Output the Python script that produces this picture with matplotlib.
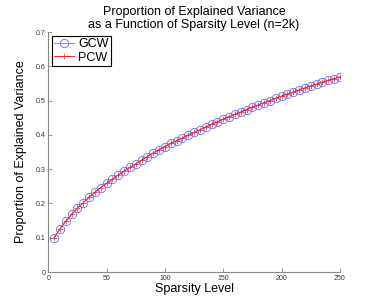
import numpy as np
import matplotlib.pyplot as plt

plt.rcParams['font.family'] = ['Liberation Sans', 'DejaVu Sans']

sparsity = list(range(5, 255, 5))
gcw = [0.100, 0.126, 0.148, 0.168, 0.186, 0.202, 0.218, 0.233, 0.246, 0.259,
       0.271, 0.283, 0.294, 0.305, 0.316, 0.326, 0.337, 0.347, 0.357, 0.366,
       0.375, 0.383, 0.391, 0.399, 0.407, 0.415, 0.423, 0.431, 0.438, 0.446,
       0.453, 0.460, 0.467, 0.474, 0.481, 0.487, 0.494, 0.500, 0.507, 0.513,
       0.519, 0.525, 0.531, 0.537, 0.543, 0.548, 0.554, 0.559, 0.564, 0.569]
pcw = list(gcw)

fig = plt.figure(figsize=(3.74, 3.05), dpi=100)
ax = fig.add_axes([0.129, 0.108, 0.780, 0.787])

ax.plot(sparsity, gcw, color='#3030ff', lw=0.4, marker='o', ms=6,
        mfc='none', mec='#6a6aff', mew=0.6, label='GCW')
ax.plot(sparsity, pcw, color='#ff2020', lw=0.7, marker='+', ms=5,
        mew=0.5, label='PCW')

ax.set_xlim(0, 250)
ax.set_ylim(0, 0.7)
ax.set_xticks([0, 50, 100, 150, 200, 250])
ax.set_yticks([0, 0.1, 0.2, 0.3, 0.4, 0.5, 0.6, 0.7])
ax.set_yticklabels(['0', '0.1', '0.2', '0.3', '0.4', '0.5', '0.6', '0.7'])
ax.tick_params(direction='in', labelsize=5, length=3, color='#888888',
               labelcolor='#333333', width=0.6, pad=2)
for s in ['top', 'right']:
    ax.spines[s].set_visible(False)
for s in ['left', 'bottom']:
    ax.spines[s].set_color('#888888')
    ax.spines[s].set_linewidth(0.8)

ax.set_xlabel('Sparsity Level', fontsize=9, labelpad=1)
ax.set_ylabel('Proportion of Explained Variance', fontsize=9, labelpad=6)
ax.set_title('Proportion of Explained Variance\nas a Function of Sparsity Level (n=2k)',
             fontsize=9, pad=3, linespacing=1.1)

leg = ax.legend(loc='upper left', fontsize=9, fancybox=False, framealpha=1,
                edgecolor='black', borderpad=0.2, handlelength=1.6,
                handletextpad=0.3, labelspacing=0.1, borderaxespad=0.3)
leg.get_frame().set_linewidth(0.8)

plt.savefig('out.png', dpi=100)
